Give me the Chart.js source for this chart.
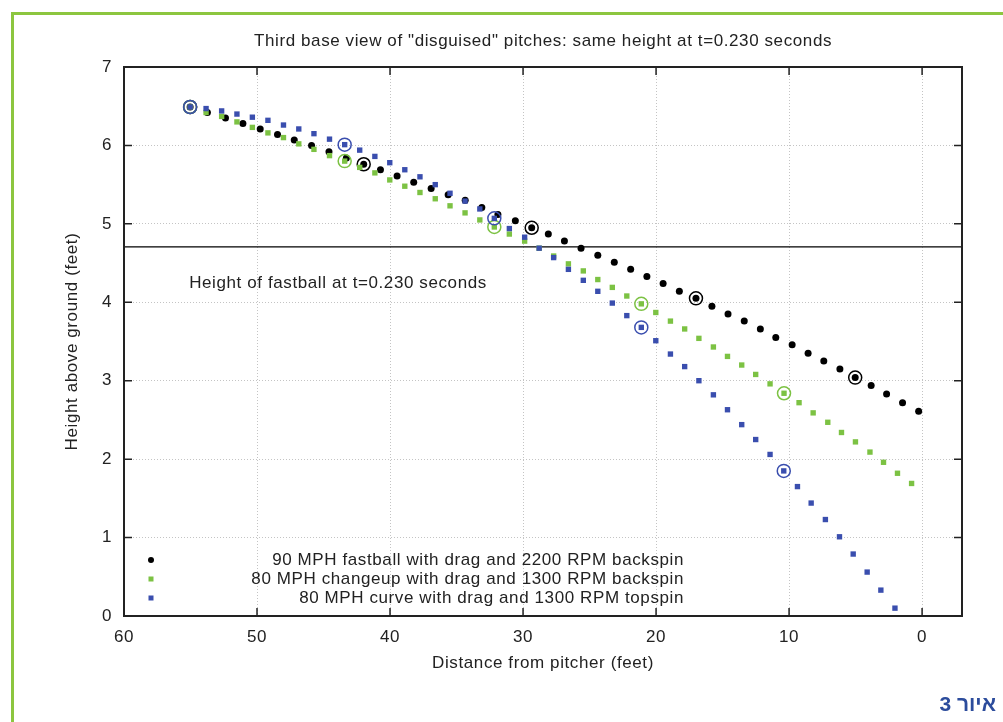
<!DOCTYPE html>
<html>
<head>
<meta charset="utf-8">
<script src="https://cdn.jsdelivr.net/npm/chart.js@4.4.1/dist/chart.umd.min.js"></script>
<style>
    html, body { margin: 0; padding: 0; background: #fff; overflow: hidden; }
    #wrap { position: relative; width: 1003px; height: 722px; overflow: hidden; }
    #frame { position: absolute; left: 11px; top: 12px; width: 1100px; height: 800px;
             border-left: 3px solid #8cc63f; border-top: 3px solid #8cc63f; }
    #chart { position: absolute; left: 0; top: 0; }
    #caption { position: absolute; right: 7px; top: 692px; color: #2c4c9c;
               font: bold 21px "Liberation Sans", "DejaVu Sans", sans-serif; }
</style>
</head>
<body>
<div id="wrap">
    <div id="frame"></div>
    <canvas id="chart" width="1003" height="722"></canvas>
    <div id="caption">איור 3</div>
</div>
<script>
// distance from pitcher (feet) and height (feet), one point per 0.01 s
var fastballDist = [55.03, 53.73, 52.37, 51.06, 49.76, 48.46, 47.20, 45.90, 44.59, 43.28,
    41.98, 40.72, 39.47, 38.22, 36.91, 35.63, 34.35, 33.10, 31.89, 30.58,
    29.35, 28.10, 26.89, 25.64, 24.38, 23.14, 21.91, 20.69, 19.47, 18.25,
    17.00, 15.80, 14.59, 13.37, 12.16, 11.00, 9.77, 8.57, 7.39, 6.18,
    5.03, 3.83, 2.67, 1.47, 0.26];
var fastballHeight = [6.49, 6.42, 6.35, 6.28, 6.21, 6.14, 6.07, 6.00, 5.92, 5.84,
    5.76, 5.69, 5.61, 5.53, 5.45, 5.37, 5.30, 5.21, 5.12, 5.04,
    4.95, 4.87, 4.78, 4.69, 4.60, 4.51, 4.42, 4.33, 4.24, 4.14,
    4.05, 3.95, 3.85, 3.76, 3.66, 3.55, 3.46, 3.35, 3.25, 3.15,
    3.04, 2.94, 2.83, 2.72, 2.61];

var changeupDist = [55.03, 53.83, 52.66, 51.51, 50.35, 49.18, 48.01, 46.86, 45.72, 44.55,
    43.41, 42.28, 41.14, 40.02, 38.89, 37.75, 36.60, 35.49, 34.36, 33.25,
    32.16, 31.03, 29.88, 28.79, 27.70, 26.59, 25.47, 24.38, 23.29, 22.20,
    21.11, 20.02, 18.92, 17.85, 16.78, 15.69, 14.63, 13.56, 12.51, 11.43,
    10.38, 9.25, 8.19, 7.09, 6.06, 5.01, 3.92, 2.90, 1.85, 0.79];
var changeupHeight = [6.49, 6.42, 6.37, 6.30, 6.23, 6.16, 6.10, 6.02, 5.95, 5.87,
    5.80, 5.72, 5.65, 5.56, 5.48, 5.40, 5.32, 5.23, 5.14, 5.05,
    4.96, 4.87, 4.78, 4.69, 4.59, 4.49, 4.40, 4.29, 4.19, 4.08,
    3.98, 3.87, 3.76, 3.66, 3.54, 3.43, 3.31, 3.20, 3.08, 2.96,
    2.84, 2.72, 2.59, 2.47, 2.34, 2.22, 2.09, 1.96, 1.82, 1.69];

var curveDist = [55.03, 53.83, 52.66, 51.51, 50.35, 49.18, 48.01, 46.86, 45.72, 44.55,
    43.41, 42.28, 41.14, 40.02, 38.89, 37.75, 36.60, 35.49, 34.36, 33.25,
    32.16, 31.03, 29.88, 28.79, 27.70, 26.59, 25.47, 24.38, 23.29, 22.20,
    21.11, 20.02, 18.92, 17.85, 16.78, 15.69, 14.63, 13.56, 12.51, 11.43,
    10.40, 9.37, 8.34, 7.27, 6.21, 5.18, 4.13, 3.10, 2.04];
var curveHeight = [6.49, 6.47, 6.44, 6.40, 6.36, 6.32, 6.26, 6.21, 6.15, 6.08,
    6.01, 5.94, 5.86, 5.78, 5.69, 5.60, 5.50, 5.39, 5.29, 5.19,
    5.07, 4.94, 4.83, 4.69, 4.57, 4.42, 4.28, 4.14, 3.99, 3.83,
    3.68, 3.51, 3.34, 3.18, 3.00, 2.82, 2.63, 2.44, 2.25, 2.06,
    1.85, 1.65, 1.44, 1.23, 1.01, 0.79, 0.56, 0.33, 0.10];

// points circled every 0.1 s
var circledSteps = [0, 10, 20, 30, 40];

var seriesLabels = [
    '90 MPH fastball with drag and 2200 RPM backspin',
    '80 MPH changeup with drag and 1300 RPM backspin',
    '80 MPH curve with drag and 1300 RPM topspin'
];
var seriesColors = ['#000000', '#7cc243', '#3a4eae'];

var xTicks = [60, 50, 40, 30, 20, 10, 0];
var yTicks = [0, 1, 2, 3, 4, 5, 6, 7];

var fastballLineHeight = 4.707;
var fastballLineLabel = 'Height of fastball at t=0.230 seconds';
var chartTitle = 'Third base view of "disguised" pitches: same height at t=0.230 seconds';

var FONT = '"Liberation Sans", Arial, sans-serif';

function toPoints(xs, ys) {
    return xs.map(function (x, i) { return { x: x, y: ys[i] }; });
}

var ringPlugin = {
    id: 'rings',
    afterDatasetDraw: function (chart, args) {
        var ctx = chart.ctx;
        var color = chart.data.datasets[args.index].borderColor;
        ctx.save();
        ctx.strokeStyle = color;
        ctx.lineWidth = 1.5;
        circledSteps.forEach(function (i) {
            var pt = args.meta.data[i];
            if (!pt) return;
            ctx.beginPath();
            ctx.arc(pt.x, pt.y, 6.5, 0, Math.PI * 2);
            ctx.stroke();
        });
        ctx.restore();
    }
};

var framePlugin = {
    id: 'frame',
    beforeDraw: function (chart) {
        // the original lettering is a little more spread out
        chart.ctx.letterSpacing = '0.6px';
    },
    beforeDatasetsDraw: function (chart) {
        var ctx = chart.ctx, a = chart.chartArea;
        var xs = chart.scales.x, ys = chart.scales.y;
        ctx.save();
        // reference line
        var ly = ys.getPixelForValue(fastballLineHeight);
        ctx.strokeStyle = '#000';
        ctx.lineWidth = 1.3;
        ctx.beginPath();
        ctx.moveTo(a.left, ly);
        ctx.lineTo(a.right, ly);
        ctx.stroke();
        ctx.fillStyle = '#222';
        ctx.font = '17px ' + FONT;
        ctx.textBaseline = 'middle';
        ctx.fillText(fastballLineLabel, xs.getPixelForValue(55.1), ys.getPixelForValue(4.245));
        ctx.restore();
    },
    afterDraw: function (chart) {
        var ctx = chart.ctx, a = chart.chartArea;
        var xs = chart.scales.x, ys = chart.scales.y;
        ctx.save();
        ctx.strokeStyle = '#222';
        ctx.lineWidth = 2;
        ctx.strokeRect(a.left, a.top, a.right - a.left, a.bottom - a.top);
        ctx.lineWidth = 1.5;
        ctx.beginPath();
        xTicks.forEach(function (v) {
            var px = xs.getPixelForValue(v);
            ctx.moveTo(px, a.bottom); ctx.lineTo(px, a.bottom - 8);
            ctx.moveTo(px, a.top); ctx.lineTo(px, a.top + 8);
        });
        yTicks.forEach(function (v) {
            var py = ys.getPixelForValue(v);
            ctx.moveTo(a.left, py); ctx.lineTo(a.left + 8, py);
            ctx.moveTo(a.right, py); ctx.lineTo(a.right - 8, py);
        });
        ctx.stroke();

        // title
        ctx.fillStyle = '#222';
        ctx.font = '17px ' + FONT;
        ctx.textAlign = 'center';
        ctx.textBaseline = 'middle';
        ctx.fillText(chartTitle, (a.left + a.right) / 2, 41);

        // legend: symbol on the left, text right-aligned
        ctx.font = '17px ' + FONT;
        ctx.textAlign = 'right';
        seriesLabels.forEach(function (label, i) {
            var y = 560 + i * 19;
            ctx.fillStyle = '#222';
            ctx.fillText(label, 684, y);
            ctx.fillStyle = seriesColors[i];
            if (i === 0) {
                ctx.beginPath();
                ctx.arc(151, y, 3, 0, Math.PI * 2);
                ctx.fill();
            } else {
                ctx.fillRect(148.5, y - 2.5, 5, 5);
            }
        });
        ctx.restore();
    }
};

new Chart(document.getElementById('chart'), {
    type: 'scatter',
    data: {
        datasets: [
            {
                label: seriesLabels[0],
                data: toPoints(fastballDist, fastballHeight),
                borderColor: seriesColors[0],
                backgroundColor: seriesColors[0],
                pointStyle: 'circle',
                pointRadius: 3.5,
                pointBorderWidth: 0,
                order: 3
            },
            {
                label: seriesLabels[1],
                data: toPoints(changeupDist, changeupHeight),
                borderColor: seriesColors[1],
                backgroundColor: seriesColors[1],
                pointStyle: 'rect',
                pointRadius: 3.8,
                pointBorderWidth: 0,
                order: 2
            },
            {
                label: seriesLabels[2],
                data: toPoints(curveDist, curveHeight),
                borderColor: seriesColors[2],
                backgroundColor: seriesColors[2],
                pointStyle: 'rect',
                pointRadius: 3.8,
                pointBorderWidth: 0,
                order: 1
            }
        ]
    },
    options: {
        responsive: false,
        animation: false,
        events: [],
        layout: { padding: { left: 0, top: 67, right: 41, bottom: 0 } },
        scales: {
            x: {
                type: 'linear',
                reverse: true,
                min: -3,
                max: 60,
                afterBuildTicks: function (axis) {
                    axis.ticks = xTicks.map(function (v) { return { value: v }; });
                },
                afterFit: function (axis) { axis.height = 106; },
                grid: { color: '#c4c4c4', lineWidth: 1, drawTicks: false },
                border: { display: false, dash: [1, 2] },
                ticks: {
                    padding: 11,
                    color: '#222',
                    font: { family: FONT, size: 17 }
                },
                title: {
                    display: true,
                    text: 'Distance from pitcher (feet)',
                    color: '#222',
                    font: { family: FONT, size: 17 },
                    padding: { top: 0, bottom: 48 }
                }
            },
            y: {
                type: 'linear',
                min: 0,
                max: 7,
                afterBuildTicks: function (axis) {
                    axis.ticks = yTicks.map(function (v) { return { value: v }; });
                },
                afterFit: function (axis) { axis.width = 124; },
                grid: { color: '#c4c4c4', lineWidth: 1, drawTicks: false },
                border: { display: false, dash: [1, 2] },
                ticks: {
                    padding: 12,
                    color: '#222',
                    font: { family: FONT, size: 17 }
                },
                title: {
                    display: true,
                    text: 'Height above ground (feet)',
                    color: '#222',
                    font: { family: FONT, size: 17 },
                    padding: { top: 62, bottom: 0 }
                }
            }
        },
        plugins: {
            legend: { display: false },
            tooltip: { enabled: false }
        }
    },
    plugins: [ringPlugin, framePlugin]
});
</script>
</body>
</html>
